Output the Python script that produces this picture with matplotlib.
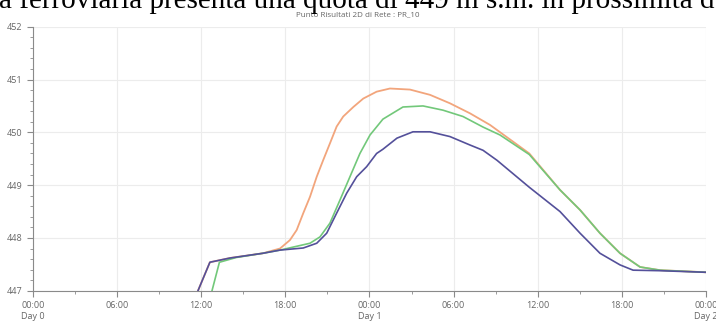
import matplotlib
matplotlib.use("Agg")
import matplotlib.pyplot as plt
from matplotlib.ticker import MultipleLocator, FixedLocator, FixedFormatter

# time in hours from Day 0 00:00
purple_t = [11.55, 11.77, 12.62, 14.05, 16.4, 17.62, 19.28, 20.24, 20.95, 21.66, 22.38, 23.09, 23.8, 24.51,
            24.96, 25.96, 27.1, 28.32, 29.74, 31.17, 32.1, 33.1, 35.4, 37.59, 39.02, 40.44, 41.87, 42.8, 44.72, 48.0]
purple_v = [446.8, 447.0, 447.54, 447.62, 447.71, 447.77, 447.81, 447.9, 448.09, 448.47, 448.85, 449.16, 449.35, 449.6,
            449.68, 449.89, 450.01, 450.01, 449.92, 449.76, 449.66, 449.47, 448.96, 448.5, 448.09, 447.71, 447.49, 447.39, 447.38, 447.35]

orange_t = [11.55, 11.77, 12.62, 14.05, 16.4, 17.62, 18.33, 18.81, 19.28, 19.76, 20.24, 20.71, 21.18, 21.66, 22.13,
            22.85, 23.56, 24.51, 25.46, 26.89, 28.32, 29.74, 31.17, 32.6, 35.4, 37.59, 39.02, 40.44, 41.87, 43.3, 44.72, 48.0]
orange_v = [446.8, 447.0, 447.54, 447.62, 447.71, 447.8, 447.96, 448.15, 448.47, 448.78, 449.16, 449.48, 449.79, 450.11, 450.3,
            450.48, 450.64, 450.77, 450.83, 450.81, 450.71, 450.55, 450.36, 450.14, 449.6, 448.91, 448.53, 448.09, 447.71, 447.45, 447.39, 447.35]

green_t = [12.55, 12.77, 13.3, 14.5, 16.4, 17.62, 19.76, 20.47, 21.18, 21.9, 22.61, 23.32, 24.04, 24.96, 26.39,
           27.82, 29.24, 30.67, 32.1, 33.31, 35.4, 37.59, 39.02, 40.44, 41.87, 43.3, 44.72, 48.0]
green_v = [446.8, 447.0, 447.54, 447.63, 447.71, 447.77, 447.9, 448.02, 448.28, 448.72, 449.16, 449.6, 449.95, 450.25, 450.48,
           450.5, 450.42, 450.3, 450.1, 449.95, 449.58, 448.91, 448.53, 448.09, 447.71, 447.45, 447.39, 447.35]

x_ticks = [0, 6, 12, 18, 24, 30, 36, 42, 48]
x_labels = ["00:00\nDay 0", "06:00", "12:00", "18:00", "00:00\nDay 1", "06:00", "12:00", "18:00", "00:00\nDay 2"]
y_ticks = [447, 448, 449, 450, 451, 452]

title = "Punto Risultati 2D di Rete : PR_10"
header = "a ferroviaria presenta una quota di 449 m s.m. in prossimità d"

fig = plt.figure(figsize=(7.16, 3.22), dpi=100)
ax = fig.add_axes([0.046, 0.097, 0.94, 0.82])

ax.plot(orange_t, orange_v, color="#f2a57c", lw=1.3, zorder=3, solid_joinstyle="round")
ax.plot(green_t, green_v, color="#72c87a", lw=1.2, zorder=4, solid_joinstyle="round")
ax.plot(purple_t, purple_v, color="#54509a", lw=1.2, zorder=5, solid_joinstyle="round")

ax.set_xlim(0, 48)
ax.set_ylim(447, 452)
ax.xaxis.set_major_locator(FixedLocator(x_ticks))
ax.xaxis.set_major_formatter(FixedFormatter(x_labels))
ax.xaxis.set_minor_locator(MultipleLocator(3))
ax.yaxis.set_major_locator(FixedLocator(y_ticks))
ax.yaxis.set_minor_locator(MultipleLocator(0.2))

ax.grid(True, which="major", color="#ececec", lw=0.8)
for s in ["top", "right"]:
    ax.spines[s].set_visible(False)
for s in ["left", "bottom"]:
    ax.spines[s].set_color("#8a8a8a")
    ax.spines[s].set_linewidth(0.8)
ax.tick_params(which="both", direction="out", colors="#8a8a8a", labelcolor="#666666", labelsize=6.5)
ax.tick_params(which="major", length=4)
ax.tick_params(which="minor", length=2.5)
for lbl in ax.get_xticklabels():
    lbl.set_fontfamily("Open Sans")
    lbl.set_linespacing(1.3)
for lbl in ax.get_yticklabels():
    lbl.set_fontfamily("Open Sans")

fig.text(0.5, 0.953, title, ha="center", va="center", fontsize=5.8, color="#666666", family="Open Sans")
fig.text(-0.002, 0.974, header, ha="left", va="baseline", fontsize=21, color="black", family="Liberation Serif")

fig.savefig("out.png", dpi=100)
